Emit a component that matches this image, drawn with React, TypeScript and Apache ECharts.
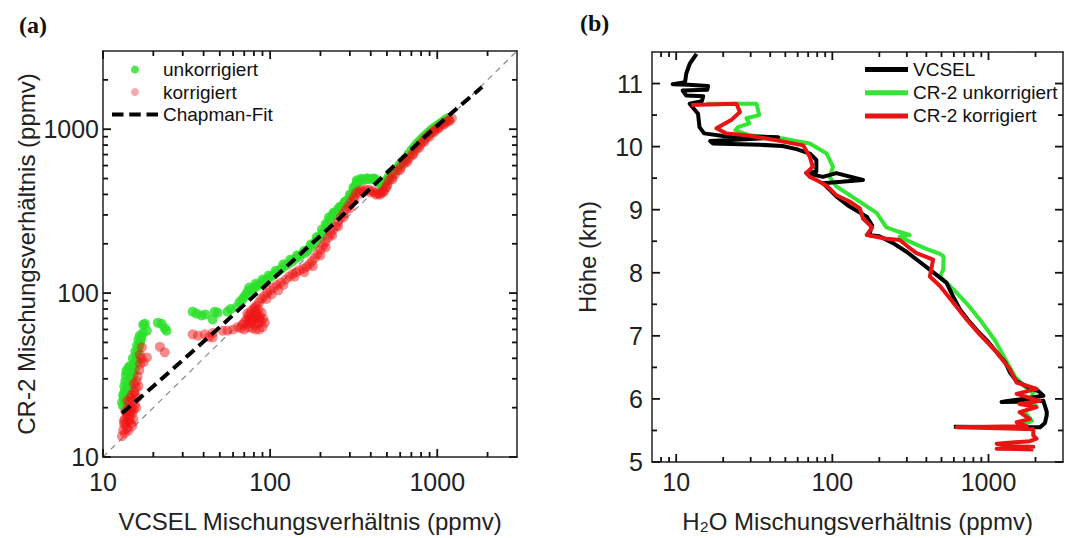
import React, { useEffect, useRef } from 'react';
import * as echarts from 'echarts';

const FONT = "'Liberation Sans', Arial, sans-serif";

// ---------- Panel (a) data: [VCSEL ppmv, CR-2 ppmv] ----------
const unkorrigiert: number[][] = [
  [13.0,21.5],[13.2,20.5],[13.3,23],[13.5,25],[13.4,27],[13.6,29],[13.8,26],[13.7,31.5],[14.0,33],[14.1,29],
  [14.3,24],[14.4,31],[14.6,33.5],[14.7,27],[14.9,30],[15.0,35],[15.2,32],[15.3,37],[15.5,34],[15.7,39],
  [15.9,42],[16.1,38],[16.2,45],[16.5,48],[16.8,51],[17.0,54],[17.3,57],[17.4,64],[17.8,65],[18.3,59],
  [13.2,24],[13.6,22],[14.0,26],[14.5,36],[14.2,35],[13.8,33.5],[15.1,40],[15.6,44],[16.0,48],[16.3,52],[16.6,55],
  [21.3,66],[22.4,65],[23.4,61],[24.0,59],
  [34.4,77],[36.2,75],[38.9,73],[41.0,74],[45.3,69],[46.6,77],[48.5,76],[55.6,77],[58,80],
  [63,82],[65.6,88],[68,91],[70,95],[72,99],[74,103],[77,104],[80,107],[84,111],[88,114],[92,118],
  [96,121],[100,125],[105,129],[110,134],[116,140],[122,146],[128,150],[135,156],[142,162],[150,168],
  [158,174],[166,182],[174,190],[182,200],[190,210],[198,220],[206,232],[214,246],[221,262],[228,280],
  [236,296],[245,310],[255,324],[265,338],[277,352],[290,368],[300,384],[310,405],[318,428],[324,452],
  [330,472],[342,484],[356,490],[372,494],[390,496],[410,498],[428,492],[442,478],[456,462],[470,452],
  [484,468],[498,490],[512,512],[528,528],[548,552],[570,578],[594,606],[618,632],[644,662],[672,704],
  [700,745],[728,780],[756,818],[786,850],[816,885],[848,918],[880,950],[915,985],[950,1015],[990,1045],
  [1030,1075],[1070,1105],[1115,1140],[1160,1170],
  [75,108],[82,114],[90,121],[98,128],[108,137],[120,150],[132,160],[145,170],[160,181],[175,198],
  [190,220],[204,244],[215,265],[225,290],[240,310],[260,334],[280,362],[300,400],[315,440],[330,488],
  [350,498],[380,502],[420,500],
];

const korrigiert: number[][] = [
  [12.98,13.4],[13.2,14.6],[13.4,15.8],[13.5,17],[13.7,16],[13.8,18.5],[13.9,15],[14.0,17.5],[14.1,20],[14.2,16.5],
  [14.3,19],[14.4,21.5],[14.5,18],[14.6,23],[14.7,16],[14.8,20],[15.0,18.5],[15.1,22],[15.2,17],[15.3,19.5],
  [15.5,21],[15.6,24],[15.7,26.5],[15.9,29],[16.1,31],[16.3,27],[16.5,34],[16.7,37],[17.0,40],[17.1,46.7],
  [18.3,40.5],
  [13.3,16.5],[13.6,19],[14.0,22],[14.4,17],[14.9,24],[15.4,25],[15.8,20],[16.0,23],[13.5,14],[14.2,14.5],
  [14.7,19],[15.3,28],[16.6,42],[17.5,38],[15.0,15.5],
  [21.9,47],[23.4,43.5],[34.4,56],[37,55],[40.6,56],[43,54],[45.3,57],[45.3,53.7],[52,59],[55.6,59],[60,60],
  [64,62],[67,61],[70,60],[74,62],[78,61],[82,60],[86,60],[90,62],[70,66],[72,69],
  [74,72],[76,75],[78,70],[80,73],[82,77],[84,74],[86,70],[88,67],[80,80],[83,84],
  [68,64],[73,65],[77,66],[81,64],[85,65],[75,68],[79,68],[83,70],[87,72],[73,75],
  [77,78],[81,82],[85,80],[89,76],[91,70],[93,66],
  [86,88],[89,92],[92,96],[96,100],[100,104],[105,108],[110,112],[116,116],[124,121],[130,126],
  [136,131],[143,134],[150,138],[158,141],[166,145],[172,150],[178,157],[185,164],[192,173],[200,184],
  [207,194],[214,205],[222,218],[230,230],[238,243],[247,256],[256,272],[265,290],[275,306],[284,322],
  [294,340],[305,360],[315,382],[326,406],[338,418],[352,424],[370,428],[391,427],[410,420],[428,410],
  [446,404],[462,408],[476,420],[490,440],[503,462],[516,488],[536,508],[558,530],[582,560],[606,588],
  [630,616],[656,642],[682,670],[708,702],[734,738],[760,770],[790,805],[820,840],[850,880],[885,915],
  [920,948],[958,980],[1000,1012],[1040,1045],[1085,1075],[1130,1105],[1175,1135],[1223,1165],
  [95,92],[102,98],[112,104],[120,112],[140,126],[160,134],[180,146],[200,170],[215,190],[235,225],
  [255,255],[275,290],[300,330],[320,370],[345,405],[365,415],[400,412],[430,398],[455,398],[480,415],
  [500,445],[540,495],[600,565],[660,630],[720,700],[780,770],[840,840],[900,900],[960,960],[1020,1010],
  [1100,1070],[1180,1120],
];

const chapmanFit: number[][] = [
  [13,18.5],[20,27],[30,39],[50,62],[80,96],[143,164],[250,275],[429,468],[813,870],[1300,1330],[1854,1807],
];

const oneToOne: number[][] = [[10,10],[3000,3000]];

// ---------- Panel (b) data: [mixing ratio ppmv, height km] ----------
const vcsel: number[][] = [
  [13.5,11.47],[12.2,11.31],[11.6,11.16],[11.4,11.02],[9.5,10.99],[12.0,10.98],[16.0,10.96],[15.8,10.9],
  [11.0,10.89],[11.6,10.81],[14.9,10.8],[14.6,10.72],[12.2,10.68],[13.8,10.52],[14.1,10.31],[15.1,10.21],
  [20,10.17],[45,10.15],[30,10.12],[16.5,10.09],[17.2,10.05],[34,10.03],[48,10.01],[59,9.96],[71.7,9.89],[79,9.79],
  [79,9.6],[68,9.58],[87,9.52],[106,9.58],[157,9.47],[87,9.42],[106,9.21],[129,9.05],[166,8.89],
  [180,8.75],[172,8.6],[200,8.58],[245,8.47],[300,8.33],[346,8.21],[421,8.05],[539,7.84],[600,7.6],
  [656,7.42],[740,7.25],[850,7.08],[1000,6.9],[1127,6.74],[1280,6.58],[1372,6.42],[1514,6.28],[1750,6.2],
  [2100,6.12],[2245,6.05],[1213,5.95],[1800,5.96],[2245,5.97],[2360,5.8],[2360,5.74],[2300,5.62],
  [2140,5.55],[600,5.56],
];

const cr2Unkorrigiert: number[][] = [
  [15.6,10.68],[32.7,10.68],[34,10.5],[28.2,10.45],[29.4,10.37],[24.9,10.31],[23.9,10.26],[29.4,10.18],
  [48,10.13],[71.7,10.05],[92,9.89],[101,9.68],[96,9.52],[106,9.37],[143,9.16],[192,8.95],[222,8.72],
  [267,8.65],[313,8.6],[270,8.57],[329,8.47],[400,8.38],[489,8.3],[515,8.26],[513,8.05],[489,7.94],
  [594,7.74],[733,7.5],[898,7.23],[1099,6.93],[1300,6.6],[1480,6.35],[1700,6.2],[1936,6.1],[1800,5.95],
  [2000,5.9],[1700,5.8],[1900,5.65],[1700,5.6],
];

const cr2Korrigiert: number[][] = [
  [12.5,10.66],[24.3,10.68],[25.6,10.55],[22.5,10.42],[18.1,10.29],[20.9,10.21],[28.2,10.18],[43.9,10.1],
  [65,10.02],[71.7,9.84],[75,9.68],[68,9.58],[71.7,9.52],[79,9.47],[92,9.38],[106,9.23],[129,9.13],
  [150,9.02],[157,8.86],[180,8.72],[166,8.6],[222,8.54],[270,8.52],[310,8.4],[346,8.31],[442,8.21],
  [421,7.94],[489,7.79],[594,7.53],[724,7.26],[881,7.02],[1127,6.74],[1372,6.47],[1514,6.26],[2033,6.16],
  [1514,6.08],[1936,6.0],[2140,5.97],[1580,5.92],[2033,5.87],[1580,5.79],[1840,5.68],[1514,5.63],
  [1754,5.57],[626,5.55],[1936,5.52],[1936,5.42],[2033,5.37],[1840,5.33],[1127,5.29],[1372,5.25],
  [1936,5.24],[1127,5.21],[1936,5.2],
];

// ---------- tick values ----------
const logMajor = [10, 100, 1000];
const logMinorA = [20,30,40,50,60,70,80,90,200,300,400,500,600,700,800,900,2000];
const logMinorB = [8,9,20,30,40,50,60,70,80,90,200,300,400,500,600,700,800,900,2000];
const heightMajor = [5, 6, 7, 8, 9, 10, 11];
const heightMinor = [5.5, 6.5, 7.5, 8.5, 9.5, 10.5];

const A_MIN = 10, A_MAX = 3000;
const BX_MIN = 7, BX_MAX = 3000;
const BY_MIN = 5, BY_MAX = 11.5;

const GREEN = '#2ae02a';
const RED_T = 'rgba(240,20,20,0.62)';
const AXIS_COLOR = '#222';

const fmt = (v: number) => String(Math.round(v * 10) / 10);

function mkAxis(o: {
  type: 'log' | 'value'; grid: number; pos: string; min: number; max: number;
  labels?: number[]; margin?: number; name?: string; nameGap?: number;
}): any {
  return {
    type: o.type,
    gridIndex: o.grid,
    position: o.pos,
    min: o.min,
    max: o.max,
    ...(o.type === 'log' ? { logBase: 10 } : {}),
    axisLine: { show: true, onZero: false, lineStyle: { color: AXIS_COLOR, width: 1.5 } },
    splitLine: { show: false },
    minorSplitLine: { show: false },
    axisTick: { show: false },
    axisLabel: o.labels
      ? { show: true, customValues: o.labels, formatter: fmt, margin: o.margin ?? 8, fontSize: 25, fontFamily: FONT, color: AXIS_COLOR }
      : { show: false },
    ...(o.name
      ? { name: o.name, nameLocation: 'middle', nameGap: o.nameGap, nameTextStyle: { fontSize: 24, fontFamily: FONT, color: AXIS_COLOR } }
      : {}),
  };
}

// tick marks: short lines placed at tick values through the chart's own coordinate system
function ticks(xi: number, yi: number, data: number[][], side: 'bottom' | 'top' | 'left' | 'right', len: number): any {
  const dx = side === 'left' ? len : side === 'right' ? -len : 0;
  const dy = side === 'bottom' ? -len : side === 'top' ? len : 0;
  return {
    type: 'custom',
    xAxisIndex: xi,
    yAxisIndex: yi,
    data,
    silent: true,
    clip: false,
    z: 20,
    renderItem: (_params: any, api: any) => {
      const p = api.coord([api.value(0), api.value(1)]);
      return {
        type: 'line',
        shape: { x1: p[0], y1: p[1], x2: p[0] + dx, y2: p[1] + dy },
        style: { stroke: '#111', lineWidth: 1.8 },
      };
    },
  };
}

const gridA = { left: 103, top: 51, width: 414, height: 407 };
const gridB = { left: 652, top: 52, width: 411, height: 411 };

const option: any = {
  animation: false,
  backgroundColor: '#ffffff',
  textStyle: { fontFamily: FONT },
  grid: [gridA, gridB].map((g) => ({ ...g, containLabel: false })),
  xAxis: [
    mkAxis({ type: 'log', grid: 0, pos: 'bottom', min: A_MIN, max: A_MAX, labels: logMajor, margin: 12, name: 'VCSEL Mischungsverhältnis (ppmv)', nameGap: 52 }),
    mkAxis({ type: 'log', grid: 0, pos: 'top', min: A_MIN, max: A_MAX }),
    mkAxis({ type: 'log', grid: 1, pos: 'bottom', min: BX_MIN, max: BX_MAX, labels: logMajor, margin: 7, name: 'H₂O Mischungsverhältnis (ppmv)', nameGap: 47 }),
    mkAxis({ type: 'log', grid: 1, pos: 'top', min: BX_MIN, max: BX_MAX }),
  ],
  yAxis: [
    mkAxis({ type: 'log', grid: 0, pos: 'left', min: A_MIN, max: A_MAX, labels: logMajor, margin: 4, name: 'CR-2 Mischungsverhältnis (ppmv)', nameGap: 65 }),
    mkAxis({ type: 'log', grid: 0, pos: 'right', min: A_MIN, max: A_MAX }),
    mkAxis({ type: 'value', grid: 1, pos: 'left', min: BY_MIN, max: BY_MAX, labels: heightMajor, margin: 9, name: 'Höhe (km)', nameGap: 53 }),
    mkAxis({ type: 'value', grid: 1, pos: 'right', min: BY_MIN, max: BY_MAX }),
  ],
  legend: [
    {
      data: [
        { name: 'unkorrigiert', icon: 'circle' },
        { name: 'korrigiert', icon: 'circle', itemStyle: { color: 'rgba(240,20,20,0.45)' } },
        { name: 'Chapman-Fit', icon: 'path://M0,0h12v4h-12z M18,0h12v4h-12z M36,0h12v4h-12z' },
      ],
      orient: 'vertical', left: 107, top: 55,
      itemWidth: 46, itemHeight: 8, itemGap: 3.5,
      selectedMode: false,
      textStyle: { fontSize: 19, fontFamily: FONT, color: '#111' },
    },
    {
      data: [
        { name: 'VCSEL', icon: 'rect' },
        { name: 'CR-2 unkorrigiert', icon: 'rect' },
        { name: 'CR-2 korrigiert', icon: 'rect' },
      ],
      orient: 'vertical', left: 860, top: 55,
      itemWidth: 43, itemHeight: 5, itemGap: 4.2,
      symbolKeepAspect: false,
      selectedMode: false,
      textStyle: { fontSize: 19, fontFamily: FONT, color: '#111' },
    },
  ],
  graphic: [
    { type: 'text', left: 19, top: 13, style: { text: '(a)', font: 'bold 24px "Liberation Serif", "Times New Roman", serif', fill: '#111' } },
    { type: 'text', left: 580, top: 11, style: { text: '(b)', font: 'bold 24px "Liberation Serif", "Times New Roman", serif', fill: '#111' } },
  ],
  series: [
    {
      name: '1:1', type: 'line', xAxisIndex: 0, yAxisIndex: 0, data: oneToOne, symbol: 'none', silent: true,
      lineStyle: { color: '#8a8a8a', width: 1.2, type: [6, 5] }, z: 1,
    },
    {
      name: 'unkorrigiert', type: 'scatter', xAxisIndex: 0, yAxisIndex: 0, data: unkorrigiert,
      symbol: 'circle', symbolSize: 10, itemStyle: { color: GREEN }, z: 2,
    },
    {
      name: 'korrigiert', type: 'scatter', xAxisIndex: 0, yAxisIndex: 0, data: korrigiert,
      symbol: 'circle', symbolSize: 10, itemStyle: { color: RED_T }, z: 3,
    },
    {
      name: 'Chapman-Fit', type: 'line', xAxisIndex: 0, yAxisIndex: 0, data: chapmanFit, symbol: 'none',
      lineStyle: { color: '#000', width: 4, type: [11, 6] }, itemStyle: { color: '#000' }, z: 4,
    },
    {
      name: 'CR-2 unkorrigiert', type: 'line', xAxisIndex: 2, yAxisIndex: 2, data: cr2Unkorrigiert, symbol: 'none',
      lineStyle: { color: '#33e633', width: 4, join: 'round' }, itemStyle: { color: '#33e633' }, z: 2,
    },
    {
      name: 'VCSEL', type: 'line', xAxisIndex: 2, yAxisIndex: 2, data: vcsel, symbol: 'none',
      lineStyle: { color: '#000', width: 4, join: 'round' }, itemStyle: { color: '#000' }, z: 3,
    },
    {
      name: 'CR-2 korrigiert', type: 'line', xAxisIndex: 2, yAxisIndex: 2, data: cr2Korrigiert, symbol: 'none',
      lineStyle: { color: '#e81414', width: 4, join: 'round' }, itemStyle: { color: '#e81414' }, z: 4,
    },
    // panel (a) ticks
    ticks(0, 0, logMajor.map((v) => [v, A_MIN]), 'bottom', 8),
    ticks(0, 0, logMinorA.map((v) => [v, A_MIN]), 'bottom', 5),
    ticks(0, 0, logMajor.map((v) => [v, A_MAX]), 'top', 8),
    ticks(0, 0, logMinorA.map((v) => [v, A_MAX]), 'top', 5),
    ticks(0, 0, logMajor.map((v) => [A_MIN, v]), 'left', 8),
    ticks(0, 0, logMinorA.map((v) => [A_MIN, v]), 'left', 5),
    ticks(0, 0, logMajor.map((v) => [A_MAX, v]), 'right', 8),
    ticks(0, 0, logMinorA.map((v) => [A_MAX, v]), 'right', 5),
    // panel (b) ticks
    ticks(2, 2, logMajor.map((v) => [v, BY_MIN]), 'bottom', 8),
    ticks(2, 2, logMinorB.map((v) => [v, BY_MIN]), 'bottom', 5),
    ticks(2, 2, logMajor.map((v) => [v, BY_MAX]), 'top', 8),
    ticks(2, 2, logMinorB.map((v) => [v, BY_MAX]), 'top', 5),
    ticks(2, 2, heightMajor.map((v) => [BX_MIN, v]), 'left', 8),
    ticks(2, 2, heightMinor.map((v) => [BX_MIN, v]), 'left', 5),
    ticks(2, 2, heightMajor.map((v) => [BX_MAX, v]), 'right', 8),
    ticks(2, 2, heightMinor.map((v) => [BX_MAX, v]), 'right', 5),
  ],
};

export default function App() {
  const ref = useRef<HTMLDivElement>(null);
  useEffect(() => {
    document.body.style.margin = '0';
    const chart = echarts.init(ref.current!, null, { renderer: 'svg' });
    chart.setOption(option);
    return () => chart.dispose();
  }, []);
  return <div ref={ref} style={{ width: 1066, height: 538, background: '#fff' }} />;
}
